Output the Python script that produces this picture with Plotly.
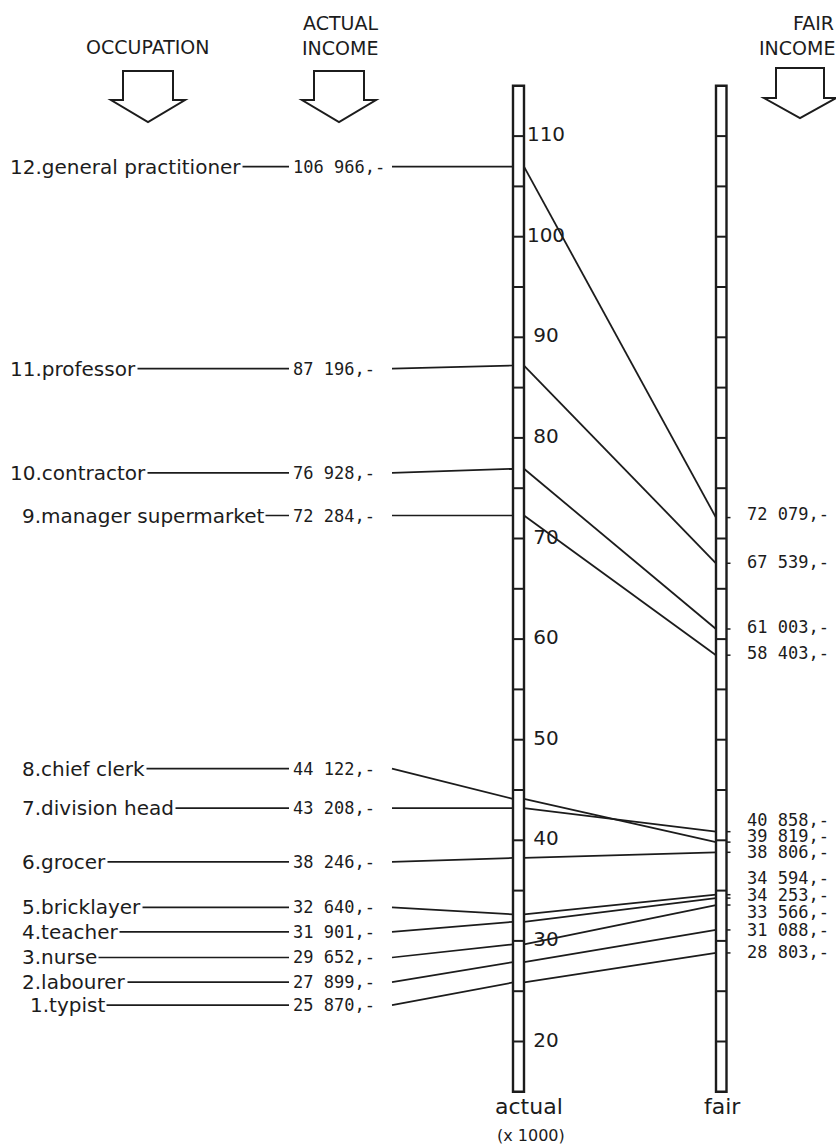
import plotly.graph_objects as go

# ---------------- data ----------------
ranks = [12, 11, 10, 9, 8, 7, 6, 5, 4, 3, 2, 1]
occupations = ["general practitioner", "professor", "contractor", "manager supermarket",
               "chief clerk", "division head", "grocer", "bricklayer", "teacher",
               "nurse", "labourer", "typist"]
actual_income = [106966, 87196, 76928, 72284, 44122, 43208, 38246, 32640, 31901, 29652, 27899, 25870]
fair_income = [72079, 67539, 61003, 58403, 39819, 40858, 38806, 34594, 34253, 33566, 31088, 28803]
axis_labels = [20, 30, 40, 50, 60, 70, 80, 90, 100, 110]
axis_minor = [20, 25, 30, 35, 40, 45, 50, 55, 60, 65, 70, 75, 80, 85, 90, 95, 100, 105, 110]

# ---------------- layout constants ----------------
W, H = 836, 1148
PX_MID, V_MID, PX_PER_K = 588.8, 65.0, 10.06


def v_of_px(px):
    return V_MID + (PX_MID - px) / PX_PER_K


Y_LO, Y_HI = v_of_px(H), v_of_px(0)
ACT_L, ACT_R = 513.0, 524.0
FAIR_L, FAIR_R = 716.0, 726.5
BAR_LO, BAR_HI = 15, 115
# label offsets (thousands) used to keep the stacked labels legible
occ_label_shift = [0, -0.3, -0.4, 0, 3.0, 0, -0.4, 0.7, -1.0, -1.3, -2.0, -2.25]
fair_label_shift = [0.4, 0.1, 0.2, 0.2, 0.6, 1.16, 0, 1.66, 0.3, -0.7, 0, 0.1]

INK = "#1c1c1c"
SANS = "DejaVu Sans"
MONO = "DejaVu Sans Mono"


def fmt(v):
    return f"{v:,}".replace(",", " ") + ",-"


def label_x(r):
    return 8 if r >= 10 else (28 if r == 1 else 20)


fig = go.Figure()

# slope lines actual -> fair
xs, ys = [], []
for a, f in zip(actual_income, fair_income):
    xs += [ACT_R, FAIR_L, None]
    ys += [a / 1000, f / 1000, None]
fig.add_trace(go.Scatter(x=xs, y=ys, mode="lines", line=dict(color=INK, width=1.8),
                         hoverinfo="skip", showlegend=False))

# left connectors: label -> value text -> actual axis
xs, ys = [], []
for r, a, s in zip(ranks, actual_income, occ_label_shift):
    ly = a / 1000 + s
    x0 = label_x(r) + 4
    xs += [x0, 289, None, 392, ACT_L, None]
    ys += [ly, ly, None, ly, a / 1000, None]
fig.add_trace(go.Scatter(x=xs, y=ys, mode="lines", line=dict(color=INK, width=1.7),
                         hoverinfo="skip", showlegend=False))

# small marks right of fair axis
xs, ys = [], []
for f in fair_income:
    xs += [FAIR_R, FAIR_R + 4, None]
    ys += [f / 1000, f / 1000, None]
fig.add_trace(go.Scatter(x=xs, y=ys, mode="lines", line=dict(color=INK, width=1.5),
                         hoverinfo="skip", showlegend=False))

# axis tick labels for the actual scale
fig.add_trace(go.Scatter(x=[546] * len(axis_labels), y=axis_labels, mode="text",
                         text=[str(t) for t in axis_labels],
                         textfont=dict(family=SANS, size=20, color=INK),
                         hoverinfo="skip", showlegend=False))

shapes = []
# the two scale bars
for xl, xr in [(ACT_L, ACT_R), (FAIR_L, FAIR_R)]:
    shapes.append(dict(type="rect", xref="x", yref="y", x0=xl, x1=xr, y0=BAR_LO, y1=BAR_HI,
                       line=dict(color=INK, width=2.4), fillcolor="white", layer="above"))
    for t in axis_minor:
        shapes.append(dict(type="line", xref="x", yref="y", x0=xl, x1=xr, y0=t, y1=t,
                           line=dict(color=INK, width=2), layer="above"))


# header arrows
def arrow(cx, top, sh, tip, hw, hh):
    p = (f"M {cx-hw},{v_of_px(top)} L {cx+hw},{v_of_px(top)} L {cx+hw},{v_of_px(sh)} "
         f"L {cx+hh},{v_of_px(sh)} L {cx},{v_of_px(tip)} L {cx-hh},{v_of_px(sh)} "
         f"L {cx-hw},{v_of_px(sh)} Z")
    return dict(type="path", xref="x", yref="y", path=p, fillcolor="white",
                line=dict(color=INK, width=2), layer="above")


shapes.append(arrow(148, 71, 100, 122, 25, 37))
shapes.append(arrow(339, 71, 100, 122, 25, 37))
shapes.append(arrow(800, 68, 98, 118, 24, 36))

annotations = []
# occupation labels
for r, name, a, s in zip(ranks, occupations, actual_income, occ_label_shift):
    annotations.append(dict(x=label_x(r), y=a / 1000 + s, xref="x", yref="y",
                            text=f"{r}.{name}",
                            xanchor="left", yanchor="middle", showarrow=False,
                            bgcolor="white", borderpad=1,
                            font=dict(family=SANS, size=20, color=INK)))
    annotations.append(dict(x=291, y=a / 1000 + s, xref="x", yref="y", text=fmt(a),
                            xanchor="left", yanchor="middle", showarrow=False,
                            font=dict(family=MONO, size=17, color=INK)))
# fair labels
for f, s in zip(fair_income, fair_label_shift):
    annotations.append(dict(x=745, y=f / 1000 + s, xref="x", yref="y", text=fmt(f),
                            xanchor="left", yanchor="middle", showarrow=False,
                            font=dict(family=MONO, size=17, color=INK)))

# headers
for txt, cx, py in [("OCCUPATION", 148, 47), ("ACTUAL", 340, 23), ("INCOME", 340, 48),
                    ("FAIR", 813, 23), ("INCOME", 797, 48)]:
    annotations.append(dict(x=cx, y=v_of_px(py), xref="x", yref="y", text=txt,
                            showarrow=False, xanchor="center", yanchor="middle",
                            font=dict(family=SANS, size=19, color=INK)))
# axis captions
for txt, cx, py, sz in [("actual", 529, 1106, 22), ("(x 1000)", 531, 1135, 16),
                        ("fair", 722, 1106, 22)]:
    annotations.append(dict(x=cx, y=v_of_px(py), xref="x", yref="y", text=txt,
                            showarrow=False, xanchor="center", yanchor="middle",
                            font=dict(family=SANS, size=sz, color=INK)))

fig.update_layout(
    width=W, height=H,
    margin=dict(l=0, r=0, t=0, b=0),
    paper_bgcolor="white", plot_bgcolor="white",
    xaxis=dict(range=[0, W], visible=False, fixedrange=True),
    yaxis=dict(range=[Y_LO, Y_HI], visible=False, fixedrange=True),
    shapes=shapes, annotations=annotations, showlegend=False,
)

fig.write_html("out.html", config={"displayModeBar": False},
               post_script="document.body.style.margin='0px';")
